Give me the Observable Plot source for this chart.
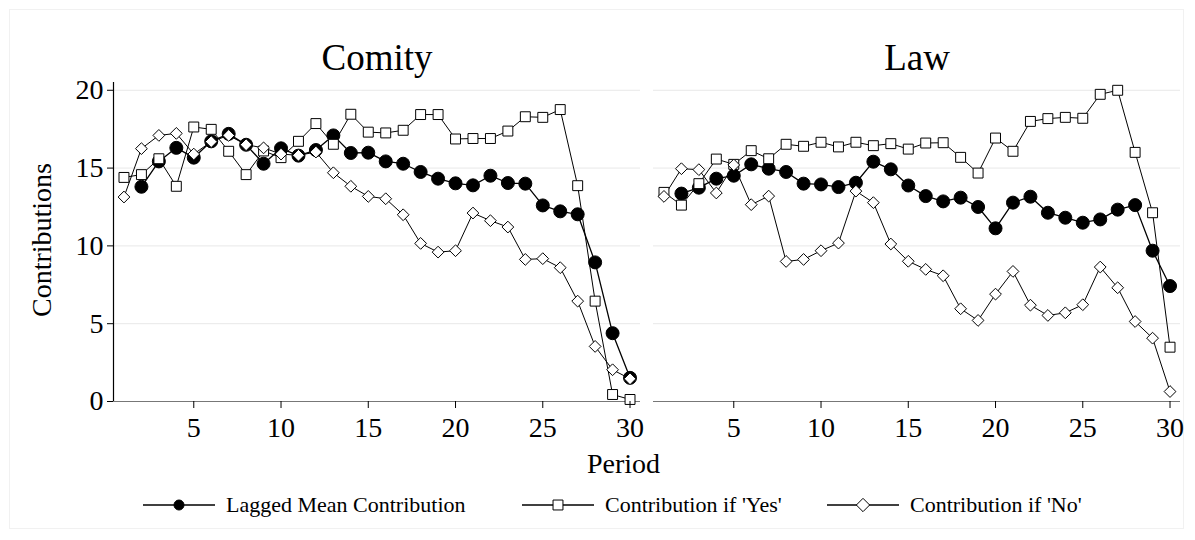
<!DOCTYPE html>
<html><head><meta charset="utf-8">
<script src="https://cdn.jsdelivr.net/npm/d3@7"></script>
<script src="https://cdn.jsdelivr.net/npm/@observablehq/plot@0.6"></script>
<style>
body{margin:0;background:#fff;font-family:"Liberation Serif","Times New Roman",serif;}
#wrap{position:relative;width:1195px;height:540px;overflow:hidden;background:#fff;}
#border{position:absolute;left:9px;top:9px;width:1175px;height:520px;border:1px solid #f1f1f1;box-sizing:border-box;}
#chart{position:absolute;left:0;top:0;}
#xlabel{position:absolute;top:446px;left:587px;font-size:28px;line-height:36px;color:#000;}
#ylabel{position:absolute;left:42px;top:240px;font-size:28px;line-height:32px;color:#000;transform:translate(-50%,-50%) rotate(-90deg);white-space:nowrap;}
.leg{position:absolute;top:490px;height:30px;display:flex;align-items:center;font-size:22px;color:#000;white-space:nowrap;}
.leg svg{margin-right:11px;}
</style></head>
<body>
<div id="wrap">
  <div id="border"></div>
  <div id="chart"></div>
  <div id="ylabel">Contributions</div>
  <div id="xlabel">Period</div>
  <div id="legend"></div>
</div>
<script>
const panels = ["Comity", "Law"];
const seriesNames = ["Lagged Mean Contribution", "Contribution if 'Yes'", "Contribution if 'No'"];
const periods = [1,2,3,4,5,6,7,8,9,10,11,12,13,14,15,16,17,18,19,20,21,22,23,24,25,26,27,28,29,30];
const xTicks = [5,10,15,20,25,30];
const yTicks = [0,5,10,15,20];
const xDomain = [0.4, 30.6];
const yDomain = [0, 20.5];

const comityMean = [null,13.8,15.43,16.3,15.67,16.72,17.2,16.5,15.28,16.27,15.8,16.16,17.1,15.97,15.99,15.43,15.28,14.75,14.32,14.02,13.89,14.51,14.04,14.0,12.6,12.22,12.03,8.94,4.39,1.52];
const comityYes  = [14.4,14.58,15.6,13.83,17.64,17.49,16.08,14.58,16.1,15.67,16.72,17.86,16.53,18.46,17.31,17.26,17.43,18.44,18.44,16.87,16.9,16.9,17.38,18.3,18.26,18.76,13.87,6.45,0.45,0.13];
const comityNo   = [13.14,16.25,17.1,17.23,15.9,16.7,17.1,16.5,16.3,15.9,15.82,16.03,14.7,13.83,13.18,13.03,12.0,10.16,9.6,9.69,12.11,11.62,11.21,9.13,9.18,8.6,6.45,3.54,2.04,1.46];

const lawMean = [null,13.36,13.74,14.32,14.51,15.24,14.96,14.75,14.0,13.95,13.78,14.06,15.41,14.92,13.88,13.2,12.86,13.1,12.5,11.13,12.78,13.16,12.13,11.81,11.49,11.7,12.33,12.62,9.69,7.42];
const lawYes  = [13.44,12.62,14.0,15.58,15.24,16.12,15.6,16.53,16.4,16.66,16.36,16.66,16.44,16.57,16.22,16.61,16.63,15.69,14.68,16.93,16.08,18.0,18.18,18.26,18.2,19.74,20.0,16.01,12.13,3.49];
const lawNo   = [13.18,14.96,14.9,13.4,15.2,12.65,13.2,9.0,9.13,9.69,10.18,13.52,12.78,10.12,9.01,8.49,8.08,5.96,5.21,6.9,8.36,6.19,5.53,5.7,6.22,8.64,7.31,5.14,4.07,0.64];

const source = {
  "Comity": [comityMean, comityYes, comityNo],
  "Law": [lawMean, lawYes, lawNo]
};
const rows = [];
for (const p of panels) {
  source[p].forEach((vals, si) => {
    vals.forEach((v, i) => {
      if (v != null) rows.push({panel: p, series: seriesNames[si], period: periods[i], value: v});
    });
  });
}
const sel = (s) => rows.filter(d => d.series === s);

const styles = [
  {symbol: "circle", r: 6.5, fill: "black", lw: 1.3},
  {symbol: "square", r: 5.6, fill: "white", lw: 1},
  {symbol: "diamond2", r: 5.3, fill: "white", lw: 1}
];

const marks = [
  Plot.gridY(yTicks, {stroke: "#e8e8e8", strokeOpacity: 1}),
  Plot.ruleY([yDomain[0]], {stroke: "#777", strokeWidth: 1.2}),
  Plot.ruleX([{panel: panels[0], x: xDomain[0]}], {x: "x", fx: "panel", stroke: "black", strokeWidth: 1.2})
];
seriesNames.forEach((s, i) => {
  marks.push(Plot.line(sel(s), {x: "period", y: "value", fx: "panel", stroke: "black", strokeWidth: styles[i].lw}));
});
seriesNames.forEach((s, i) => {
  marks.push(Plot.dot(sel(s), {x: "period", y: "value", fx: "panel", symbol: () => styles[i].symbol, r: styles[i].r, fill: styles[i].fill, stroke: "black", strokeWidth: 1}));
});
marks.push(
  Plot.axisY({ticks: yTicks, tickSize: 6, tickPadding: 4, fontSize: 28, label: null}),
  Plot.axisX({ticks: xTicks, tickSize: 7, tickPadding: 9, fontSize: 28, label: null}),
  Plot.axisFx({anchor: "top", tickSize: 0, tickPadding: 13, fontSize: 37, label: null})
);

const chart = Plot.plot({
  width: 1195,
  height: 445,
  marginLeft: 113,
  marginRight: 15,
  marginTop: 82,
  marginBottom: 44,
  style: {fontFamily: "'Liberation Serif','Times New Roman',serif", background: "transparent", color: "black"},
  fx: {domain: panels, paddingInner: 0.0241, paddingOuter: 0, label: null},
  x: {domain: xDomain},
  y: {domain: yDomain},
  symbol: {domain: ["circle", "square", "diamond2"], range: ["circle", "square", "diamond2"]},
  marks
});
document.getElementById("chart").appendChild(chart);

// legend
const legendPos = [143, 522, 827];
const legendDiv = document.getElementById("legend");
seriesNames.forEach((s, i) => {
  const item = document.createElement("div");
  item.className = "leg";
  item.style.left = legendPos[i] + "px";
  const sym = d3.symbol(d3["symbol" + (i === 0 ? "Circle" : i === 1 ? "Square" : "Diamond2")], (i === 0 ? 5 : i === 1 ? 5.6 : 6) ** 2 * Math.PI)();
  item.innerHTML = `<svg width="72" height="20" viewBox="0 0 72 20"><line x1="0" x2="72" y1="10" y2="10" stroke="black" stroke-width="1.3"/><path transform="translate(36,10)" d="${sym}" fill="${styles[i].fill}" stroke="black" stroke-width="1"/></svg><span>${s}</span>`;
  legendDiv.appendChild(item);
});
</script>
</body></html>
